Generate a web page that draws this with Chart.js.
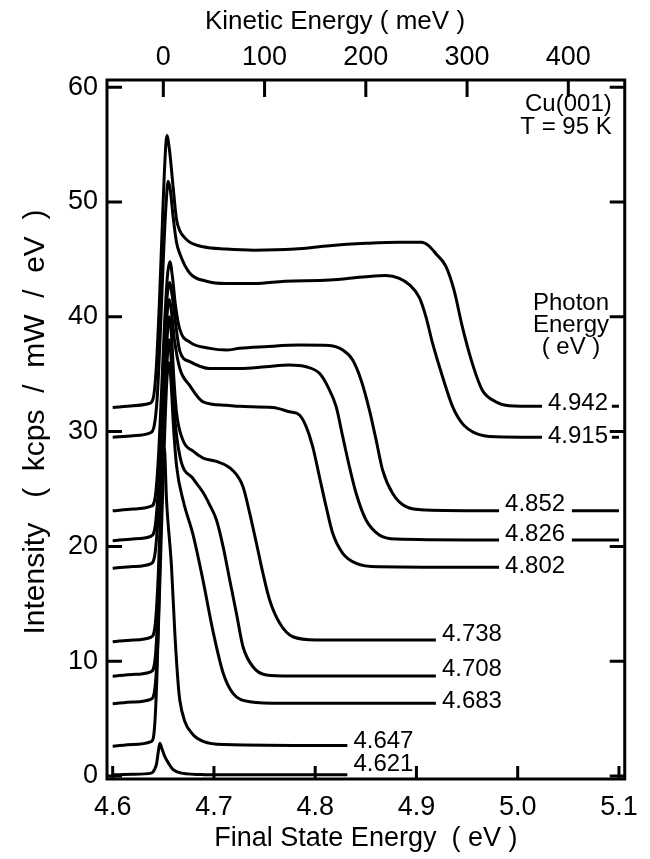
<!DOCTYPE html>
<html>
<head>
<meta charset="utf-8">
<script src="https://cdn.jsdelivr.net/npm/chart.js@4.4.0/dist/chart.umd.min.js"></script>
<style>
  html, body { margin: 0; padding: 0; background: #fff; }
</style>
</head>
<body>
<canvas id="myChart" width="650" height="859"></canvas>
<script>
// photon energy of each spectrum, top to bottom
var photonEnergies = ["4.942", "4.915", "4.852", "4.826", "4.802", "4.738", "4.708", "4.683", "4.647", "4.621"];
var xTicks = [4.6, 4.7, 4.8, 4.9, 5.0, 5.1];
var keTicks = [0, 100, 200, 300, 400];
var yTicks = [0, 10, 20, 30, 40, 50, 60];

// [final state energy (eV), intensity (kcps/mW/eV)], null = gap for the label
var curve4942 = [[4.600,32.1],[4.620,32.25],[4.636,32.45],[4.640,32.9],[4.643,35.5],[4.646,41],[4.649,48],[4.651,52.5],[4.6535,55.8],[4.656,54.6],[4.6597,51.3],[4.663,48.5],[4.6663,47.5],[4.671,46.9],[4.6762,46.5],[4.6893,46.1],[4.712,45.9],[4.74,45.8],[4.78,45.9],[4.8143,46.2],[4.85,46.4],[4.883,46.5],[4.905,46.5],[4.912,46.2],[4.9192,45.5],[4.9291,44.4],[4.9372,42.3],[4.9454,39.1],[4.9553,35.9],[4.9651,33.6],[4.9783,32.6],[4.9914,32.25],[5.024,32.2],[5.05,null],[5.093,32.2],[5.1,32.2]];
var curve4915 = [[4.600,29.5],[4.620,29.65],[4.637,29.9],[4.641,30.5],[4.644,33],[4.647,38.5],[4.650,45],[4.6525,49.5],[4.6548,51.8],[4.657,51.0],[4.6597,48.7],[4.663,46.5],[4.6663,45.5],[4.6762,43.8],[4.6926,43.1],[4.712,42.9],[4.74,42.9],[4.77,43.1],[4.8143,43.2],[4.85,43.5],[4.8699,43.6],[4.8831,43.35],[4.8929,42.8],[4.9028,41.7],[4.9094,40.0],[4.9159,37.7],[4.9257,34.8],[4.9356,32.2],[4.9454,30.7],[4.9586,29.85],[4.9783,29.55],[5.024,29.5],[5.05,null],[5.093,29.5],[5.1,29.5]];
var curve4852 = [[4.600,23.1],[4.620,23.25],[4.638,23.5],[4.642,24.3],[4.645,27.5],[4.648,33],[4.651,39],[4.654,43.5],[4.6565,44.8],[4.659,43.5],[4.662,41],[4.6663,38.9],[4.6762,37.8],[4.696,37.25],[4.7123,37.1],[4.7254,37.26],[4.75,37.4],[4.7845,37.54],[4.8141,37.5],[4.8272,37.1],[4.837,36.24],[4.8453,34.5],[4.8535,31.9],[4.8601,29.3],[4.8666,26.65],[4.8764,24.63],[4.8897,23.46],[4.9094,23.17],[4.9816,23.1],[5.02,null],[5.0535,23.1],[5.1,23.1]];
var curve4826 = [[4.600,20.5],[4.620,20.65],[4.638,20.9],[4.642,21.8],[4.645,25],[4.648,31],[4.651,37.5],[4.654,42],[4.656,43],[4.6585,42],[4.662,39.5],[4.6663,37.0],[4.6762,36.1],[4.696,35.5],[4.7254,35.5],[4.7512,35.65],[4.7747,35.8],[4.7911,35.65],[4.8042,35.08],[4.8126,33.9],[4.8207,32.17],[4.8272,29.56],[4.8338,26.94],[4.8404,24.63],[4.8502,22.3],[4.8633,21.0],[4.8798,20.64],[4.9619,20.56],[4.9816,20.55],[5.02,null],[5.0535,20.55],[5.1,20.55]];
var curve4802 = [[4.600,18.1],[4.620,18.25],[4.638,18.5],[4.642,19.5],[4.645,23],[4.648,29],[4.651,36],[4.654,40.5],[4.656,41.5],[4.658,40.5],[4.661,38],[4.6663,35.5],[4.6762,34.0],[4.6893,32.6],[4.7123,32.3],[4.7254,32.2],[4.7582,32.1],[4.7747,31.73],[4.7845,31.45],[4.7911,30.43],[4.7976,28.68],[4.8042,26.07],[4.8108,23.46],[4.8173,21.14],[4.8272,19.4],[4.8404,18.53],[4.8633,18.23],[4.9816,18.18]];
var curve4738 = [[4.600,11.7],[4.620,11.85],[4.638,12.1],[4.642,13.2],[4.645,17.5],[4.648,25],[4.651,33],[4.654,38.5],[4.656,40],[4.658,38.5],[4.6605,34.5],[4.6631,31.6],[4.6696,29.2],[4.6794,28.3],[4.6893,27.7],[4.7025,27.4],[4.7188,26.6],[4.7287,25.2],[4.7353,22.9],[4.7419,20.3],[4.7484,17.66],[4.755,15.33],[4.765,13.3],[4.7779,12.13],[4.801,11.85],[4.9192,11.85]];
var curve4708 = [[4.600,8.7],[4.620,8.85],[4.638,9.1],[4.642,10.3],[4.645,15],[4.648,23],[4.651,31],[4.654,36.5],[4.656,38],[4.658,36],[4.661,31.5],[4.6665,27.8],[4.6794,25.9],[4.6893,24.7],[4.6959,23.6],[4.7025,22.3],[4.709,20.0],[4.7156,17.07],[4.7222,14.17],[4.7287,11.26],[4.7385,9.52],[4.7517,8.8],[4.7747,8.71],[4.9192,8.71]];
var curve4683 = [[4.600,6.3],[4.620,6.45],[4.638,6.7],[4.642,7.9],[4.645,12.5],[4.648,21],[4.651,29],[4.6535,34.5],[4.6555,36],[4.6575,34.5],[4.660,30.5],[4.6631,27.0],[4.6696,24.0],[4.6794,21.0],[4.6893,17.0],[4.6991,12.6],[4.709,9.0],[4.7188,7.2],[4.7353,6.47],[4.7681,6.33],[4.9192,6.33]];
var curve4647 = [[4.600,2.6],[4.620,2.75],[4.638,3.0],[4.641,3.9],[4.644,9.5],[4.647,20],[4.6495,27.5],[4.651,28.5],[4.6532,24],[4.6581,18.2],[4.6614,12.4],[4.6646,8.1],[4.6663,6.6],[4.671,4.8],[4.6794,3.6],[4.69,3.0],[4.71,2.75],[4.8318,2.65]];
var curve4621 = [[4.600,0.1],[4.620,0.15],[4.638,0.25],[4.6415,0.6],[4.6434,1.1],[4.645,2.1],[4.6466,2.85],[4.6483,2.45],[4.6515,1.68],[4.656,1.0],[4.6597,0.55],[4.668,0.25],[4.69,0.12],[4.8318,0.1]];

var curves = [curve4942, curve4915, curve4852, curve4826, curve4802, curve4738, curve4708, curve4683, curve4647, curve4621];

var FONT = "'Liberation Sans', Arial, Helvetica, sans-serif";
Chart.defaults.font.family = FONT;
Chart.defaults.color = '#000';

// how far each label sits above its baseline (px)
var labelLift = [3, 1, 6, 6, 1, 6, 7, 2, 4, 10];

const extras = {
  id: 'extras',
  afterDatasetsDraw(chart) {
    const ctx = chart.ctx, a = chart.chartArea, s = chart.scales;
    ctx.save();
    ctx.strokeStyle = '#000';
    ctx.lineWidth = 3;
    ctx.strokeRect(a.left, a.top, a.right - a.left, a.bottom - a.top);

    // inward ticks
    ctx.beginPath();
    xTicks.forEach(v => {
      let px = s.x.getPixelForValue(v);
      ctx.moveTo(px, a.bottom); ctx.lineTo(px, a.bottom - 13);
    });
    keTicks.forEach(v => {
      let px = s.x2.getPixelForValue(v);
      ctx.moveTo(px, a.top); ctx.lineTo(px, a.top + 17);
    });
    yTicks.forEach(v => {
      let py = s.y.getPixelForValue(v);
      ctx.moveTo(a.left, py); ctx.lineTo(a.left + 15, py);
      ctx.moveTo(a.right, py); ctx.lineTo(a.right - 15, py);
    });
    ctx.stroke();

    // curve labels, placed just after the end of each curve's first segment
    ctx.fillStyle = '#000';
    ctx.font = '24px ' + FONT;
    ctx.textBaseline = 'middle';
    ctx.textAlign = 'left';
    curves.forEach((c, i) => {
      let k = c.findIndex(p => p[1] === null);
      let end = k < 0 ? c[c.length - 1] : c[k - 1];
      let px = s.x.getPixelForValue(end[0]) + 6;
      let py = s.y.getPixelForValue(end[1]) - labelLift[i];
      ctx.fillText(photonEnergies[i], px, py);
    });

    ctx.textAlign = 'right';
    ctx.fillText('Cu(001)', a.right - 13, 104);
    ctx.fillText('T = 95 K', a.right - 13, 127);

    ctx.textAlign = 'center';
    ctx.fillText('Photon', 571, 303);
    ctx.fillText('Energy', 571, 325);
    ctx.fillText('( eV )', 571, 347);

    ctx.font = '26px ' + FONT;
    ctx.fillText('Kinetic Energy ( meV )', 335, 22);

    // left axis title
    ctx.font = '30px ' + FONT;
    ctx.translate(36, 422);
    ctx.rotate(-Math.PI / 2);
    ctx.fillText('Intensity   (  kcps  /  mW  /  eV  )', 0, 0);
    ctx.restore();
  }
};

new Chart('myChart', {
  type: 'line',
  data: {
    datasets: curves.map((c, i) => ({
      label: photonEnergies[i],
      data: c.map(p => ({ x: p[0], y: p[1] })),
      borderColor: '#000',
      borderWidth: 3,
      borderJoinStyle: 'round',
      pointRadius: 0,
      fill: false,
      spanGaps: false,
      cubicInterpolationMode: 'monotone'
    }))
  },
  options: {
    responsive: false,
    animation: false,
    layout: { padding: 0 },
    plugins: { legend: { display: false }, tooltip: { enabled: false } },
    scales: {
      x: {
        type: 'linear', position: 'bottom', min: 4.59438, max: 5.10571,
        afterBuildTicks: sc => { sc.ticks = xTicks.map(v => ({ value: v })); },
        afterFit: sc => { sc.height = 80; },
        grid: { display: false, drawTicks: false },
        border: { display: false },
        ticks: { font: { size: 27 }, padding: 12, maxRotation: 0, callback: v => v.toFixed(1) },
        title: { display: true, text: 'Final State Energy  ( eV )', font: { size: 27 }, padding: { top: 0, bottom: 4 } }
      },
      x2: {
        type: 'linear', position: 'top', min: -55.62, max: 455.71,
        afterBuildTicks: sc => { sc.ticks = keTicks.map(v => ({ value: v })); },
        afterFit: sc => { sc.height = 80; },
        grid: { display: false, drawTicks: false },
        border: { display: false },
        ticks: { font: { size: 27 }, padding: 6, maxRotation: 0, callback: v => v.toFixed(0) }
      },
      y: {
        type: 'linear', position: 'left', min: -0.261, max: 60.63,
        afterBuildTicks: sc => { sc.ticks = yTicks.map(v => ({ value: v })); },
        afterFit: sc => { sc.width = 107; },
        grid: { display: false, drawTicks: false },
        border: { display: false },
        ticks: { font: { size: 27 }, padding: 9, callback: v => String(v) }
      },
      y2: {
        type: 'linear', position: 'right', min: -0.261, max: 60.63,
        afterFit: sc => { sc.width = 24; },
        grid: { display: false, drawTicks: false },
        border: { display: false },
        ticks: { display: false }
      }
    }
  },
  plugins: [extras]
});
</script>
</body>
</html>
